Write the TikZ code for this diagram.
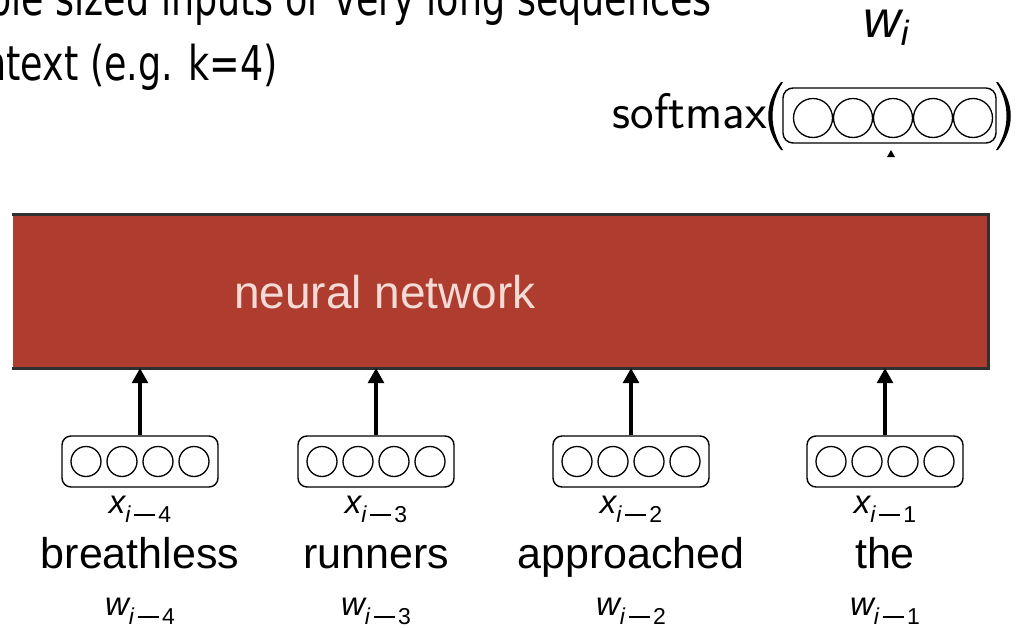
\documentclass[tikz,border=0pt]{standalone}
\usepackage{fontspec}
\setmainfont{Liberation Sans}
\newfontfamily\tahoma{DejaVu Sans}[FakeStretch=0.76]
\usetikzlibrary{arrows.meta,calc}
\definecolor{nnred}{HTML}{AF3D2F}
\definecolor{nntext}{HTML}{F3DAD5}
\definecolor{nnborder}{HTML}{303030}
\newcommand{\fs}[1]{\fontsize{#1}{#1}\selectfont}
\newcommand{\vlabel}[2]{{\fs{33}\itshape #1}\raisebox{-9pt}{\fs{23}\itshape i\upshape\hspace{4pt}\rule[6.5pt]{21pt}{1.8pt}\hspace{3pt}#2}}
\tikzset{
  vecbox/.style={draw, line width=1.4pt, rounded corners=9pt, minimum width=156pt, minimum height=51pt, inner sep=0pt},
  outbox/.style={draw, line width=1.4pt, rounded corners=10pt, minimum width=213pt, minimum height=55pt, inner sep=0pt},
  unit/.style={draw, line width=1.3pt, circle, inner sep=0pt},
  arr/.style={line width=3.2pt, -{Triangle[width=16pt,length=15pt]}},
  word/.style={anchor=base, inner sep=0pt, font=\fs{43}},
  xlab/.style={anchor=base, inner sep=0pt},
  toptext/.style={inner sep=0pt, font=\tahoma\fs{48}}
}
\begin{document}
\begin{tikzpicture}[x=1pt,y=-1pt]
\useasboundingbox (0,0) rectangle (1023,627);
\clip (0,0) rectangle (1023,627);

% top text (clipped at left)
\node[toptext, anchor=base east] (t1) at (712,15) {variable sized inputs or very long sequences};
\node[toptext, anchor=base east] (t2) at (278,80) {fixed context (e.g. k=4)};

% output
\node[xlab, text height=28pt] (wi) at (886,37) {{\fs{52}\itshape w}\raisebox{-8pt}{\fs{35}\itshape i}};
\node[outbox] (out) at (889.5,115.5) {};
\foreach \k in {-2,...,2}{
  \node[unit, minimum size=39pt] (o\k) at ($(893,118)+(40*\k,0)$) {};
}
\node[anchor=base east, inner sep=0pt, font=\sffamily\fs{50}] (sm) at (767,128) {softmax};
\fill (781,82) .. controls (764,104) and (764,128) .. (781,150)
   -- (783,150) .. controls (769,128) and (769,104) .. (783,82) -- cycle;
\fill (998,82) .. controls (1015,104) and (1015,128) .. (998,150)
   -- (996,150) .. controls (1010,128) and (1010,104) .. (996,82) -- cycle;
\coordinate (tip) at (891,150);
\fill (tip) -- ++(-4,7) -- ++(8,0) -- cycle;

% neural network
\node[fill=nnred, minimum width=976pt, minimum height=153pt, inner sep=0pt] (nn) at (500.5,291.5) {};
\draw[nnborder, line width=3pt] (nn.north west) -- (nn.north east) -- (nn.south east) -- (nn.south west);
\node[anchor=base, inner sep=0pt, text=nntext, font=\fs{46}] (nnl) at (385,308) {neural network};

% inputs
\foreach \n/\xx/\lab/\w in {a/140/4/breathless, b/376/3/runners, c/631/2/approached, d/885/1/the}{
  \node[vecbox] (box\n) at (\xx,461.5) {};
  \foreach \k in {-3,-1,1,3}{
    \node[unit, minimum size=30pt] at ($(box\n.center)+(18*\k,0)$) {};
  }
  \draw[arr] (box\n.north) -- (box\n.north |- nn.south);
  \node[xlab] (x\n) at (\xx,513) {\vlabel{x}{\lab}};
  \node[word] (word\n) at (\xx,568) {\w};
  \node[xlab] (w\n) at (\xx,615) {\vlabel{w}{\lab}};
}
\end{tikzpicture}
\end{document}
